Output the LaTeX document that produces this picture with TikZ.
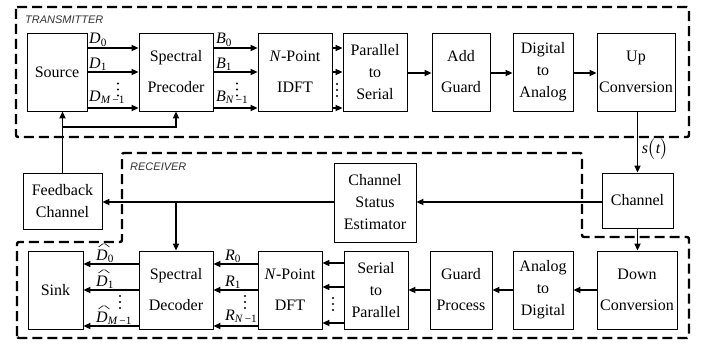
\documentclass[tikz,border=0pt]{standalone}
\usepackage{fontspec}
\usepackage{amsmath}
\setmainfont{Liberation Serif}
\newfontfamily\labfont{Liberation Sans}
\usetikzlibrary{arrows.meta}
\begin{document}
\begin{tikzpicture}[x=1pt,y=-1pt,
 box/.style={draw, line width=0.8pt, inner sep=0pt, align=center, font=\fontsize{16}{22}\selectfont},
 arr/.style={line width=1.6pt, -{Triangle[length=7pt,width=6pt]}},
 region/.style={line width=2.4pt, dash pattern=on 10pt off 5pt, rounded corners=2pt},
 lab/.style={font=\fontsize{16}{16}\selectfont, inner sep=0pt, anchor=base west},
 sect/.style={font=\labfont\itshape\fontsize{11}{11}\selectfont, inner sep=0pt, anchor=base west, text=black!80},
 hatline/.style={line width=0.6pt, rounded corners=1.5pt},
 vdotsmark/.pic={\fill (0,-6) circle (1.1pt) (0,0) circle (1.1pt) (0,6) circle (1.1pt);}
]
\useasboundingbox (0,0) rectangle (712,345);

% regions
\draw[region] (16,7) rectangle (689,137);
\draw[region] (17,338) -- (17,242) -- (122,242) -- (122,153) -- (582,153) -- (582,237) -- (689,237) -- (689,338) -- cycle;
\node[sect] (txl) at (25,24) {TRANSMITTER};
\node[sect] (rxl) at (130,170) {RECEIVER};

% transmitter boxes
\node[box, minimum width=60pt, minimum height=78pt] (src) at (57,72) {Source};
\node[box, minimum width=74pt, minimum height=78pt] (pre) at (176,72) {Spectral\\[9pt]Precoder};
\node[box, minimum width=74pt, minimum height=78pt] (idft) at (295,72) {\textit{N}-Point\\[9pt]IDFT};
\node[box, minimum width=64pt, minimum height=78pt] (ps) at (375,72) {Parallel\\to\\Serial};
\node[box, minimum width=58pt, minimum height=78pt] (ag) at (461,72) {Add\\[9pt]Guard};
\node[box, minimum width=60pt, minimum height=78pt] (da) at (543,72) {Digital\\to\\Analog};
\node[box, minimum width=78pt, minimum height=78pt] (up) at (636,72) {Up\\[9pt]Conversion};

% middle boxes
\node[box, minimum width=79pt, minimum height=56pt] (fb) at (62.5,201) {Feedback\\Channel};
\node[box, minimum width=82pt, minimum height=79pt] (cse) at (375,202.5) {Channel\\Status\\Estimator};
\node[box, minimum width=71pt, minimum height=55pt] (ch) at (637.5,200.5) {Channel};

% receiver boxes
\node[box, minimum width=55pt, minimum height=78pt] (sink) at (55.5,290) {Sink};
\node[box, minimum width=74pt, minimum height=78pt] (dec) at (176,290) {Spectral\\[9pt]Decoder};
\node[box, minimum width=64pt, minimum height=78pt] (dft) at (290,290) {\textit{N}-Point\\[9pt]DFT};
\node[box, minimum width=64pt, minimum height=78pt] (sp) at (376,290) {Serial\\to\\Parallel};
\node[box, minimum width=62pt, minimum height=78pt] (gp) at (461,290) {Guard\\[9pt]Process};
\node[box, minimum width=60pt, minimum height=78pt] (ad) at (543,290) {Analog\\to\\Digital};
\node[box, minimum width=80pt, minimum height=78pt] (dc) at (637,290) {Down\\[9pt]Conversion};

% transmitter arrows
\foreach \y in {48,72,108}{
  \draw[arr] (src.east |- 0,\y) -- (pre.west |- 0,\y);
  \draw[arr] (pre.east |- 0,\y) -- (idft.west |- 0,\y);
  \draw[arr] (idft.east |- 0,\y) -- (ps.west |- 0,\y);
}
\draw[arr] (ps.east |- 0,73) -- (ag.west |- 0,73);
\draw[arr] (ag.east |- 0,73) -- (da.west |- 0,73);
\draw[arr] (da.east |- 0,73) -- (up.west |- 0,73);

\node[lab] (d0) at (89,44) {\textit{D}\textsubscript{0}};
\node[lab] (d1) at (89,68) {\textit{D}\textsubscript{1}};
\node[lab] (dm) at (89,101) {\textit{D}\textsubscript{\textit{M}\,−1}};
\pic at (118,89.5) {vdotsmark};
\node[lab] (b0) at (216,44) {\textit{B}\textsubscript{0}};
\node[lab] (b1) at (216,68) {\textit{B}\textsubscript{1}};
\node[lab] (bn) at (216,101) {\textit{B}\textsubscript{\textit{N}\,−1}};
\pic at (237,89.5) {vdotsmark};
\pic at (337,90) {vdotsmark};

% feedback
\draw[arr] (fb.north) -- (fb.north |- src.south);
\draw[arr] (fb.north |- 0,127) -- (pre.south |- 0,127) -- (pre.south);

% channel
\draw[arr] (ch.north |- up.south) -- (ch.north);
\node[font=\fontsize{16}{16}\selectfont, inner sep=0pt] (st) at (655,149) {$\textit{s}\big(\textit{t}\big)$};
\draw[arr] (ch.south) -- (ch.south |- dc.north);
\draw[arr] (ch.west |- 0,202) -- (cse.east |- 0,202);
\draw[arr] (cse.west |- 0,202) -- (fb.east |- 0,202);
\draw[arr] (dec.north |- 0,202) -- (dec.north);

% receiver arrows
\draw[arr] (dc.west |- 0,290) -- (ad.east |- 0,290);
\draw[arr] (ad.west |- 0,290) -- (gp.east |- 0,290);
\draw[arr] (gp.west |- 0,290) -- (sp.east |- 0,290);
\foreach \y in {263,287,323}{
  \draw[arr] (sp.west |- 0,\y) -- (dft.east |- 0,\y);
}
\foreach \y in {264,290,326}{
  \draw[arr] (dft.west |- 0,\y) -- (dec.east |- 0,\y);
  \draw[arr] (dec.west |- 0,\y) -- (sink.east |- 0,\y);
}
\node[lab] (h0) at (96,260) {\textit{D}\textsubscript{0}};
\node[lab] (h1) at (96,286) {\textit{D}\textsubscript{1}};
\node[lab] (hm) at (96,322) {\textit{D}\textsubscript{\textit{M}\,−1}};
\foreach \h in {h0,h1,hm}{
  \draw[hatline] ([shift={(2.5,-13)}]\h.base west) -- ++(5.5,-4) -- ++(5.5,4);
}
\pic at (120,302) {vdotsmark};
\node[lab] (r0) at (225,260) {\textit{R}\textsubscript{0}};
\node[lab] (r1) at (225,286) {\textit{R}\textsubscript{1}};
\node[lab] (rn) at (225,320) {\textit{R}\textsubscript{\textit{N}\,−1}};
\pic at (245,302) {vdotsmark};
\pic at (333,304) {vdotsmark};
\end{tikzpicture}
\end{document}
